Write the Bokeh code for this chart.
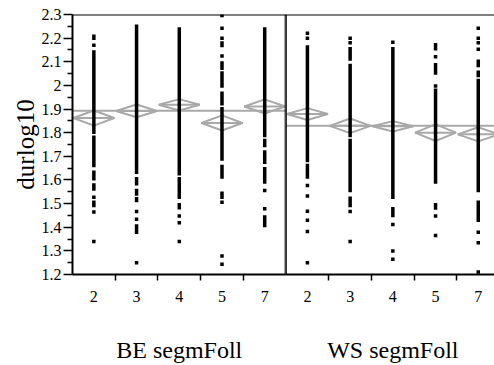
from bokeh.plotting import figure
from bokeh.models import (LinearAxis, FixedTicker, Span, Range1d, ColumnDataSource)
from bokeh.embed import file_html
from bokeh.resources import INLINE

# ---------------- data ----------------
groups = ["BE segmFoll", "WS segmFoll"]
cats = ["2", "3", "4", "5", "7"]

means_BE = [1.862, 1.892, 1.918, 1.841, 1.911]
ci_BE = [0.032, 0.027, 0.024, 0.032, 0.030]
means_WS = [1.879, 1.829, 1.827, 1.800, 1.793]
ci_WS = [0.025, 0.031, 0.022, 0.035, 0.030]
grand_BE = 1.893
grand_WS = 1.829

# dense runs of points: (column index 0..9, low, high)
run_col = [0, 0, 0, 0, 0, 0,
           1, 1, 1, 1, 1,
           2, 2, 2,
           3, 3, 3, 3, 3, 3, 3,
           4, 4, 4, 4, 4,
           5, 5,
           6, 6, 6, 6,
           7, 7,
           8, 8, 8, 8,
           9, 9, 9, 9]
run_lo = [2.200, 1.802, 1.661, 1.605, 1.562, 1.492,
          1.633, 1.584, 1.541, 1.513, 1.379,
          1.626, 1.527, 1.482,
          2.169, 2.073, 1.997, 1.922, 1.689, 1.612, 1.527,
          1.788, 1.746, 1.675, 1.591, 1.407,
          1.682, 1.612,
          2.112, 1.788, 1.555, 1.492,
          1.527, 1.450,
          2.155, 2.053, 1.591, 1.481,
          2.084, 2.042, 1.555, 1.429]
run_hi = [2.208, 2.141, 1.781, 1.633, 1.579, 1.506,
          2.250, 1.605, 1.555, 1.520, 1.405,
          2.239, 1.605, 1.495,
          2.179, 2.095, 2.052, 1.967, 1.901, 1.657, 1.544,
          2.239, 1.767, 1.718, 1.647, 1.443,
          2.162, 1.661,
          2.155, 2.084, 1.767, 1.523,
          2.155, 1.478,
          2.172, 2.087, 1.979, 1.495,
          2.102, 2.056, 2.021, 1.506]

# isolated points: (column index, value)
pt_col = [0, 0, 0, 0,
          1, 1, 1,
          2, 2, 2,
          3, 3, 3, 3, 3, 3, 3,
          4, 4,
          5, 5, 5, 5, 5, 5, 5, 5,
          6, 6, 6, 6,
          7, 7, 7, 7,
          8, 8, 8, 8,
          9, 9, 9, 9, 9, 9, 9]
pt_val = [2.170, 1.527, 1.464, 1.340,
          1.467, 1.434, 1.250,
          1.447, 1.419, 1.340,
          2.296, 2.242, 2.200, 2.124, 1.506, 1.278, 1.243,
          1.555, 1.478,
          2.221, 2.200, 1.577, 1.532, 1.468, 1.429, 1.382, 1.250,
          2.200, 2.180, 1.467, 1.340,
          2.183, 1.412, 1.299, 1.264,
          2.121, 1.997, 1.448, 1.365,
          2.242, 2.200, 2.180, 2.153, 1.379, 1.334, 1.211]

y_ticks = [1.2, 1.3, 1.4, 1.5, 1.6, 1.7, 1.8, 1.9, 2.0, 2.1, 2.2, 2.3]

# ---------------- figure ----------------
FONT = "Liberation Serif"
GREY = "#a9a9a9"
ncat = len(cats)
centers = [i + 0.5 for i in range(2 * ncat)]

p = figure(width=494, height=365, output_backend="svg", toolbar_location=None,
           x_range=Range1d(0, 9.88), y_range=Range1d(1.2, 2.3),
           x_axis_location=None, y_axis_location=None,
           min_border_left=72, min_border_right=0, min_border_top=14,
           min_border_bottom=91)
p.outline_line_color = None
p.xgrid.visible = False
p.ygrid.visible = False
p.background_fill_color = "white"
p.border_fill_color = "white"

# left axis
yax = LinearAxis(ticker=FixedTicker(ticks=y_ticks,
                                    minor_ticks=[round(t + 0.05, 2) for t in y_ticks[:-1]]),
                 axis_label="durlog10")
yax.major_label_overrides = {t: ("%g" % t) for t in y_ticks}
yax.axis_line_width = 2
yax.axis_line_color = "black"
yax.major_tick_out = 9
yax.major_tick_in = 0
yax.minor_tick_out = 5
yax.minor_tick_in = 0
yax.major_tick_line_width = 1.5
yax.minor_tick_line_width = 1.5
yax.major_tick_line_color = "black"
yax.minor_tick_line_color = "black"
yax.major_label_text_font = FONT
yax.major_label_text_font_size = "16px"
yax.major_label_text_color = "black"
yax.major_label_standoff = 2
yax.axis_label_text_font = FONT
yax.axis_label_text_font_size = "25px"
yax.axis_label_text_font_style = "normal"
yax.axis_label_text_color = "black"
yax.axis_label_standoff = 0
p.add_layout(yax, "left")

# bottom axis with category labels
xax = LinearAxis(ticker=FixedTicker(ticks=centers,
                                    minor_ticks=[c + 0.5 for c in centers if abs(c + 0.5 - ncat) > 0.01]))
xax.major_label_overrides = {c: cats[i % ncat] for i, c in enumerate(centers)}
xax.axis_line_width = 2
xax.axis_line_color = "black"
xax.major_tick_out = 0
xax.major_tick_in = 0
xax.minor_tick_out = 6
xax.minor_tick_in = 0
xax.minor_tick_line_width = 1.5
xax.minor_tick_line_color = "black"
xax.major_label_text_font = FONT
xax.major_label_text_font_size = "16px"
xax.major_label_text_color = "black"
xax.major_label_standoff = 10
p.add_layout(xax, "below")

# second bottom axis with group labels
gcent = [ncat / 2, ncat + ncat / 2]
gax = LinearAxis(ticker=FixedTicker(ticks=gcent, minor_ticks=[]))
gax.major_label_overrides = {c: groups[i] for i, c in enumerate(gcent)}
gax.axis_line_color = None
gax.major_tick_line_color = None
gax.minor_tick_line_color = None
gax.major_tick_out = 0
gax.major_label_text_font = FONT
gax.major_label_text_font_size = "24px"
gax.major_label_text_color = "black"
gax.major_label_standoff = 32
p.add_layout(gax, "below")

# top border and group divider
p.add_layout(Span(location=2.3, dimension="width", line_color="black", line_width=2))
p.add_layout(Span(location=ncat, dimension="height", line_color="black", line_width=1.5))
p.add_layout(Span(location=ncat - 0.03, dimension="height", line_color="black",
                  line_width=1, line_dash="1 1"))

# grand mean lines
p.segment(x0=[0, ncat], y0=[grand_BE, grand_WS], x1=[ncat, 2 * ncat + 1],
          y1=[grand_BE, grand_WS], line_color=GREY, line_width=2)

# mean diamonds
means = means_BE + means_WS
cis = ci_BE + ci_WS
hw = 0.48
xs = [[c - hw, c, c + hw, c] for c in centers]
ys = [[m, m + d, m, m - d] for m, d in zip(means, cis)]
p.patches(xs=xs, ys=ys, fill_color=None, line_color=GREY, line_width=2)
p.segment(x0=[c - hw for c in centers], y0=means, x1=[c + hw for c in centers], y1=means,
          line_color=GREY, line_width=2)

# data points
run_src = ColumnDataSource(dict(x=[centers[c] for c in run_col], lo=run_lo, hi=run_hi))
p.segment(x0="x", y0="lo", x1="x", y1="hi", source=run_src, line_color="black",
          line_width=3.5, line_cap="square")
pt_src = ColumnDataSource(dict(x=[centers[c] for c in pt_col], y=pt_val))
p.scatter(x="x", y="y", source=pt_src, marker="square", size=3.5,
          fill_color="black", line_color=None)

open("out.html", "w").write(file_html(p, INLINE))
